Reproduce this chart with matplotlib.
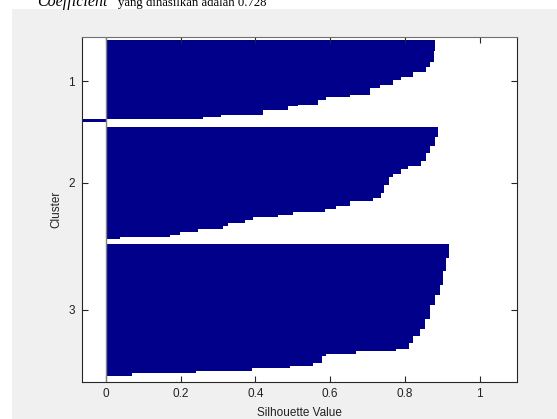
import numpy as np
import matplotlib
matplotlib.use('Agg')
import matplotlib.pyplot as plt
from matplotlib.patches import Rectangle

plt.rcParams['font.family'] = ['Liberation Sans', 'DejaVu Sans']

# silhouette values per cluster (sorted, value + number of points with that value)
c1_vals = [0.880, 0.877, 0.866, 0.857, 0.821, 0.790, 0.768, 0.733, 0.706, 0.652,
           0.590, 0.568, 0.514, 0.486, 0.421, 0.307, 0.260, -0.064]
c1_counts = [11, 10, 5, 5, 5, 3, 5, 3, 7, 2, 3, 4, 1, 4, 5, 2, 2, 3]

c2_vals = [0.889, 0.880, 0.866, 0.857, 0.843, 0.808, 0.790, 0.768, 0.757, 0.745,
           0.736, 0.715, 0.652, 0.617, 0.586, 0.501, 0.461, 0.394, 0.372, 0.327,
           0.314, 0.247, 0.198, 0.171, 0.037]
c2_counts = [10, 8, 7, 8, 5, 3, 5, 3, 8, 7, 5, 3, 5, 3, 3, 3, 2, 3, 3, 3, 3, 2, 3, 2, 2]

c3_vals = [0.918, 0.910, 0.902, 0.893, 0.880, 0.866, 0.853, 0.840, 0.821, 0.812,
           0.777, 0.670, 0.590, 0.577, 0.555, 0.492, 0.390, 0.242, 0.069]
c3_counts = [14, 13, 13, 10, 10, 13, 10, 7, 7, 6, 2, 3, 2, 6, 3, 2, 3, 2, 3]

cluster_labels = ['1', '2', '3']
xtick_vals = [0, 0.2, 0.4, 0.6, 0.8, 1]
xtick_labels = ['0', '0.2', '0.4', '0.6', '0.8', '1']
caption_it = 'Coefficient'
caption_rest = 'yang dihasilkan adalah 0.728'

bar_color = '#00008b'
gap = 5

fig = plt.figure(figsize=(5.57, 4.19), dpi=100)
fig.patch.set_facecolor('white')
fig.add_artist(Rectangle((12 / 557, 0), 1, 1 - 9 / 419, transform=fig.transFigure,
                         facecolor='#f0f0f0', edgecolor='none', zorder=0))
# caption line of the document, cut off at the top of the picture
fig.text(37 / 557, 1 - 6 / 419, caption_it, fontsize=11.5, va='baseline', ha='left',
         family='Liberation Serif', style='italic', zorder=5)
fig.text(118 / 557, 1 - 6 / 419, caption_rest, fontsize=9.2, va='baseline', ha='left',
         family='Liberation Serif', zorder=5)

ax = fig.add_axes([82 / 557, 1 - 382 / 419, 435 / 557, 345 / 419])

y = 1
centers = []
all_vals = []
first = last = None
for vals, counts in [(c1_vals, c1_counts), (c2_vals, c2_counts), (c3_vals, c3_counts)]:
    v = np.repeat(vals, counts)
    pos = np.arange(y, y + len(v))
    ax.barh(pos, v, height=1, color=bar_color, linewidth=0, antialiased=False)
    centers.append(pos.mean())
    all_vals.extend(v)
    if first is None:
        first = pos[0]
    last = pos[-1]
    y += len(v) + gap

ax.axvline(0, color='#808080', lw=1, zorder=3)
ax.set_xlim(min(all_vals), 1.1)
ax.set_ylim(last + 0.5 + 6, first - 0.5 - 3)

ax.set_xticks(xtick_vals)
ax.set_xticklabels(xtick_labels)
ax.set_yticks(centers)
ax.set_yticklabels(cluster_labels)
ax.tick_params(direction='in', top=True, right=True, length=4, width=0.8,
               labelsize=8.5, color='#262626', labelcolor='#222222')
ax.tick_params(axis='x', pad=4)
ax.tick_params(axis='y', pad=5)
for side in ['left', 'right', 'bottom']:
    ax.spines[side].set_color('#262626')
ax.spines['top'].set_color('#707070')

ax.set_xlabel('Silhouette Value', fontsize=8.5, labelpad=5, color='#222222')
ax.set_ylabel('Cluster', fontsize=8.5, labelpad=4, color='#222222')

fig.savefig('out.png', dpi=100, facecolor=fig.get_facecolor())
